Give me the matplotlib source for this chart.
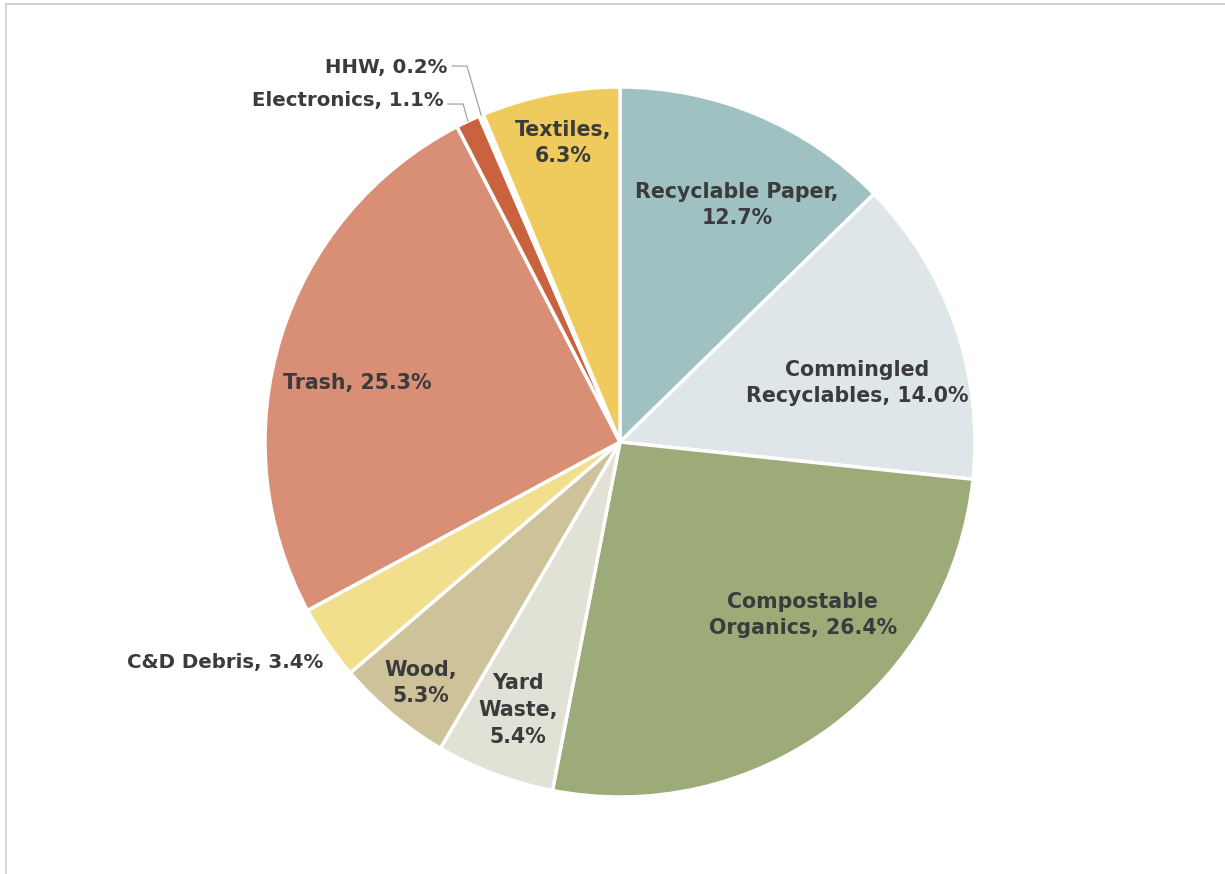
import matplotlib
matplotlib.use("Agg")
import matplotlib.pyplot as plt
from matplotlib.lines import Line2D
import numpy as np

categories = ["Recyclable Paper", "Commingled Recyclables", "Compostable Organics",
              "Yard Waste", "Wood", "C&D Debris", "Trash", "Electronics", "HHW", "Textiles"]
shares = [12.7, 14.0, 26.4, 5.4, 5.3, 3.4, 25.3, 1.1, 0.2, 6.3]
label_text = ["Recyclable Paper,\n{:.1f}%", "Commingled\nRecyclables, {:.1f}%",
              "Compostable\nOrganics, {:.1f}%", "Yard\nWaste,\n{:.1f}%", "Wood,\n{:.1f}%",
              "C&D Debris, {:.1f}%", "Trash, {:.1f}%", "Electronics, {:.1f}%",
              "HHW, {:.1f}%", "Textiles,\n{:.1f}%"]
colors = ["#9fc1c2", "#dfe6e9", "#9dab79", "#e2e1d6", "#cec29b",
          "#f1df8e", "#d98e76", "#c8623f", "#fbf6ea", "#eecb5c"]

# label centres (inside labels) / right ends (outside labels), in pie units
label_xy = [(0.330, 0.668), (0.668, 0.166), (0.515, -0.487), (-0.287, -0.755),
            (-0.561, -0.679), (-0.836, -0.620), (-0.741, 0.166), (-0.497, 0.961),
            (-0.485, 1.056), (-0.161, 0.842)]
outside = {"C&D Debris": None, "Electronics": (-0.442, 0.952), "HHW": (-0.431, 1.059)}

TEXT = "#3b3b3b"

fig = plt.figure(figsize=(12.25, 8.74), dpi=100)
fig.patch.set_facecolor("white")

cx, cy, r = 620, 442, 355
W, H = 1225, 874
ax = fig.add_axes([(cx - r) / W, (H - cy - r) / H, 2 * r / W, 2 * r / H])

wedges, _ = ax.pie(shares, colors=colors, startangle=90, counterclock=False,
                   radius=1.0, wedgeprops=dict(edgecolor="white", linewidth=2.5))
ax.set_xlim(-1, 1)
ax.set_ylim(-1, 1)
ax.set_aspect("equal")
ax.axis("off")

for name, val, fmt, w, (lx, ly) in zip(categories, shares, label_text, wedges, label_xy):
    txt = fmt.format(val)
    if name in outside:
        ax.text(lx, ly, txt, ha="right", va="center", fontsize=14.2,
                fontweight="bold", color=TEXT, clip_on=False)
        elbow = outside[name]
        if elbow is not None:
            mid = np.deg2rad((w.theta1 + w.theta2) / 2)
            ex, ey = np.cos(mid), np.sin(mid)
            ax.add_line(Line2D([lx + 0.012, elbow[0], ex], [elbow[1], elbow[1], ey],
                               color="#9a9a9a", linewidth=0.8, clip_on=False))
    else:
        ax.text(lx, ly, txt, ha="center", va="center", fontsize=14.8,
                fontweight="bold", color=TEXT, linespacing=1.42)

# thin grey frame on the top and left edges
fig.add_artist(Line2D([6 / W, 1], [1 - 4 / H, 1 - 4 / H], color="#c8c8c8",
                      linewidth=1.2, transform=fig.transFigure))
fig.add_artist(Line2D([6 / W, 6 / W], [0, 1 - 4 / H], color="#d0d0d0",
                      linewidth=1.2, transform=fig.transFigure))

fig.savefig("out.png", dpi=100, facecolor="white")
